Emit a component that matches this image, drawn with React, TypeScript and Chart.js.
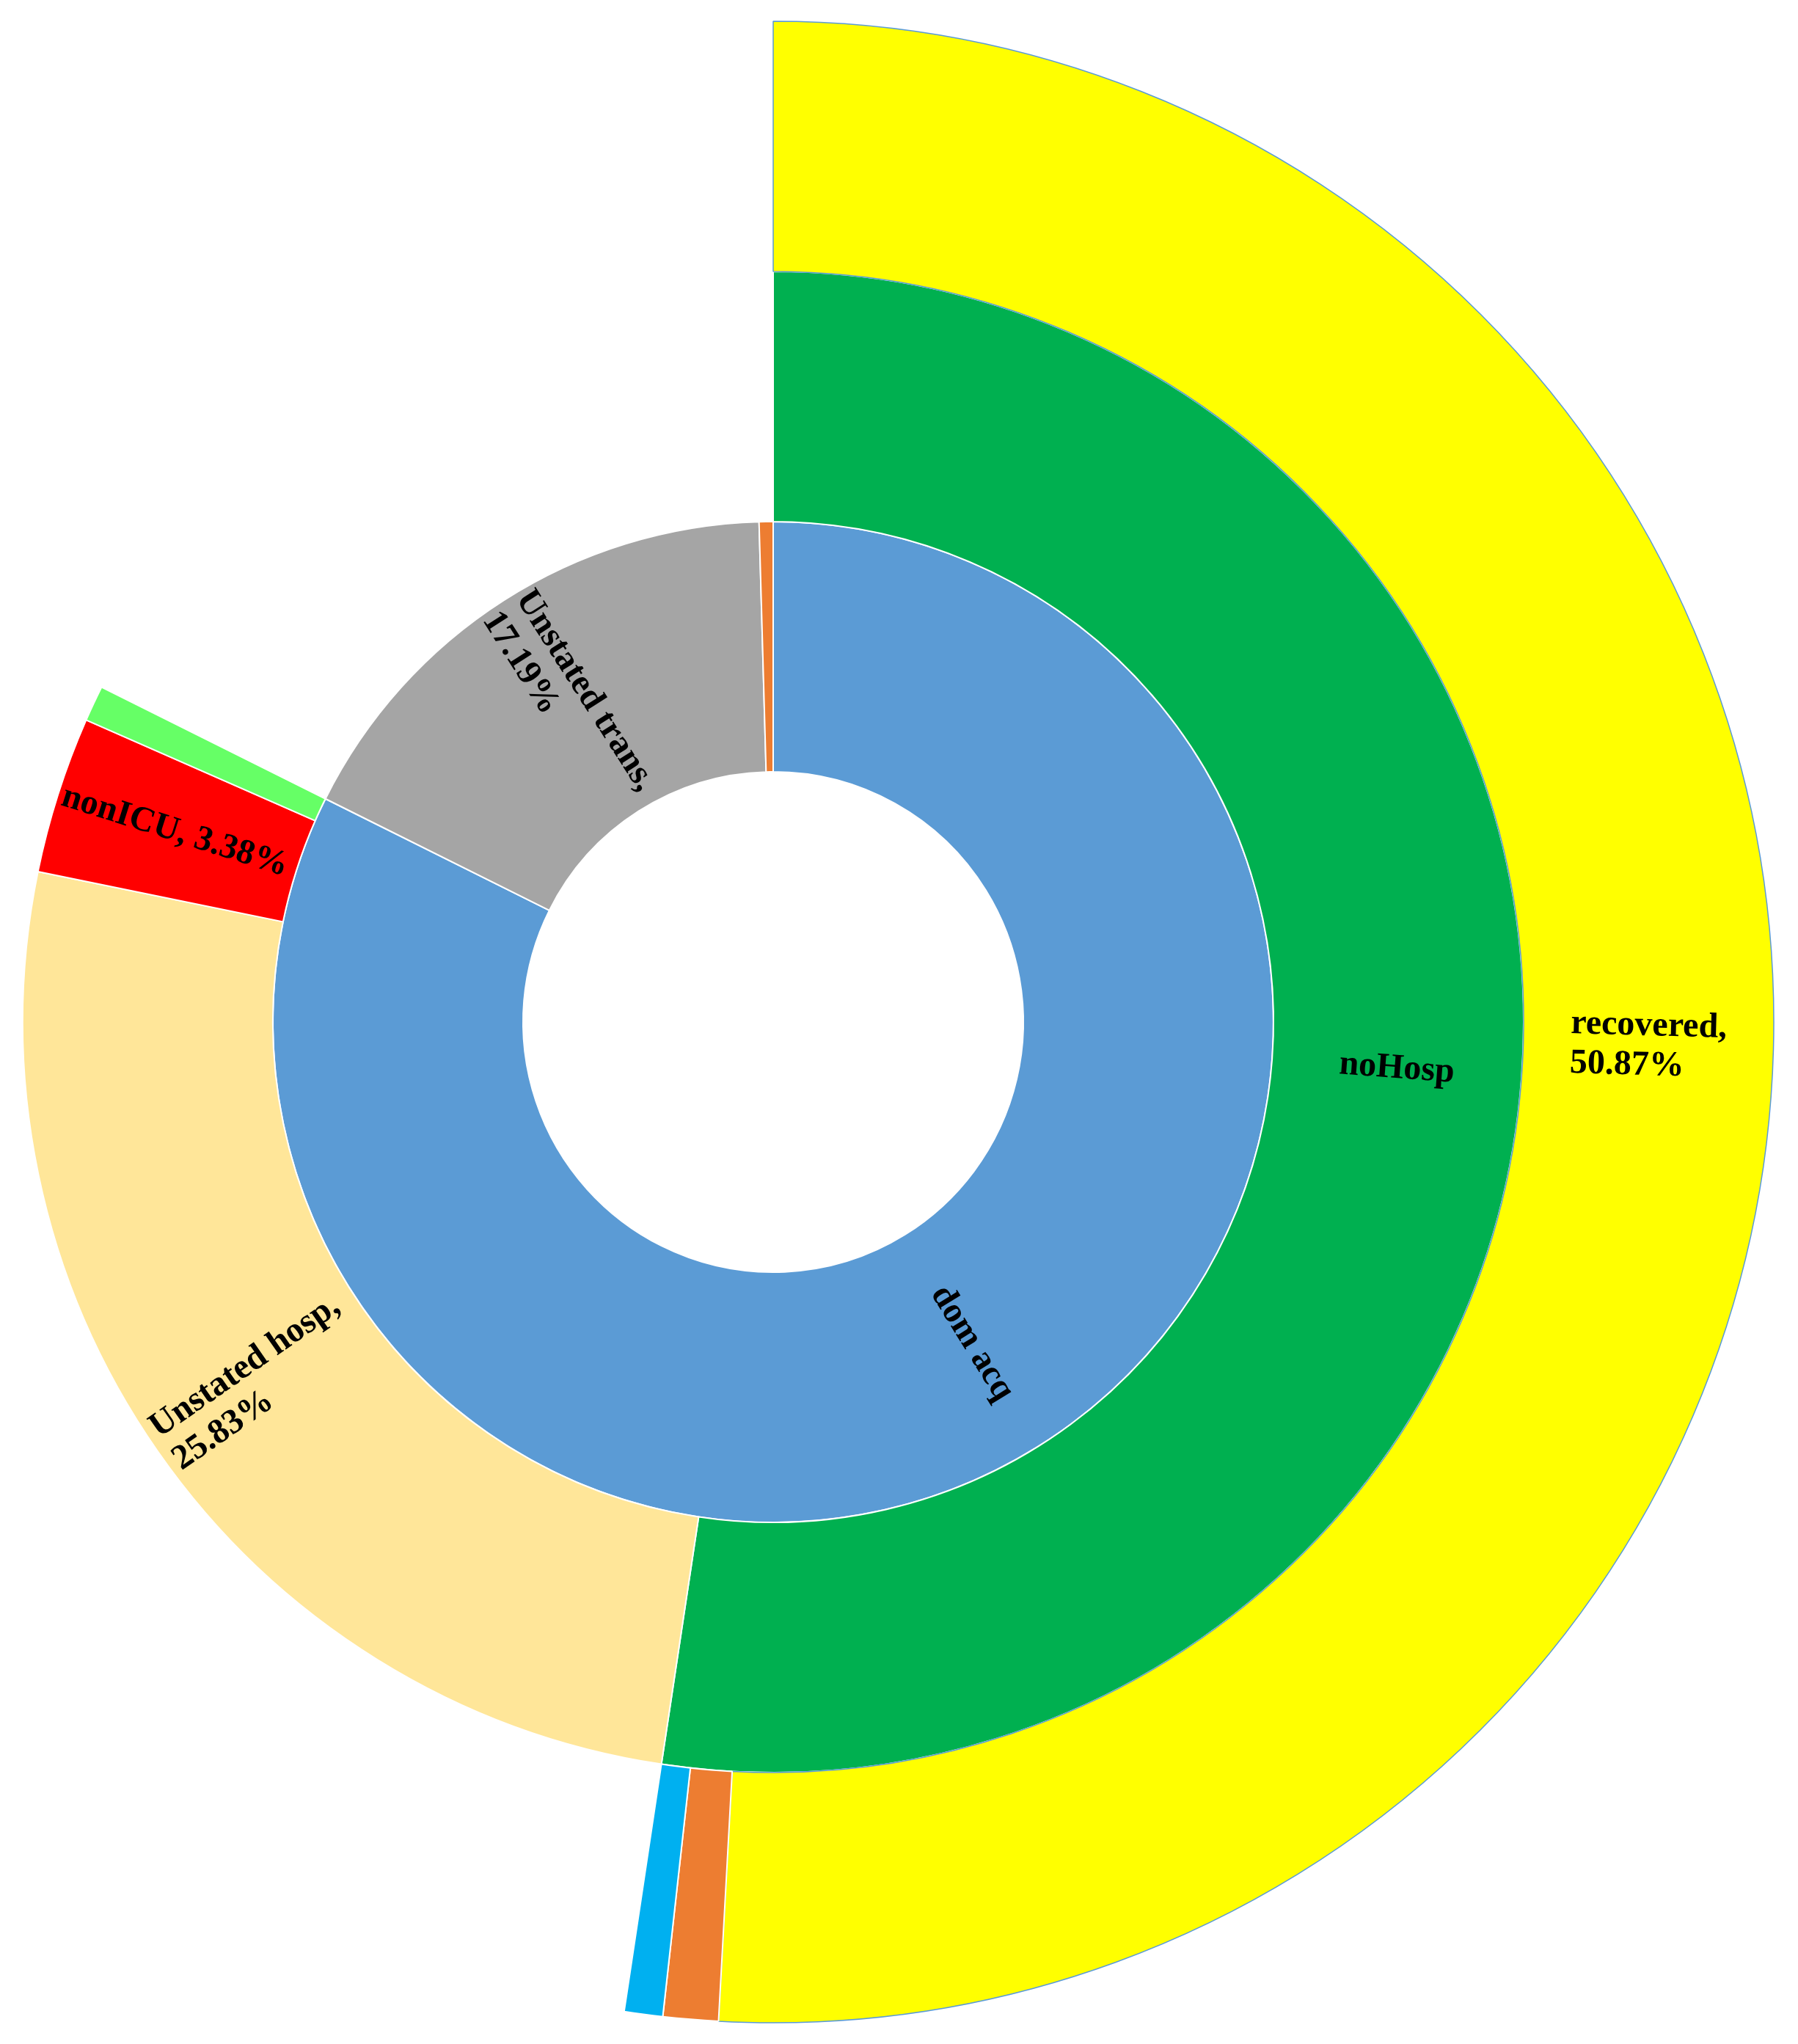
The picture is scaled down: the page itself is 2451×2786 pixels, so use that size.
import React, { useEffect, useRef } from "react";
import { Chart, registerables } from "chart.js";

Chart.register(...registerables);

// ---- Data (percent of all cases) ----
// Inner ring: acquisition
const ring1Names = ["dom acq", "Unstated trans", "overseas"];
const ring1Values = [82.36, 17.19, 0.45];
const ring1Colors = ["#5B9BD5", "#A5A5A5", "#ED7D31"];

// Middle ring: hospitalisation (children of dom acq)
const ring2Names = ["noHosp", "Unstated hosp", "nonICU", "ICU"];
const ring2Values = [52.38, 25.83, 3.38, 0.77];
const ring2Colors = ["#00B050", "#FFE699", "#FF0000", "#66FF66"];

// Outer ring: outcome (children of noHosp)
const ring3Names = ["recovered", "died", "unstated"];
const ring3Values = [50.87, 0.89, 0.62];
const ring3Colors = ["#FFFF00", "#ED7D31", "#00B0F0"];

const TOTAL = 100;

// Segment labels: ring (1 = inner), segment index, text lines, radial position within ring
const labelRing = [1, 1, 2, 2, 2, 3];
const labelIndex = [0, 1, 0, 1, 2, 0];
const labelLines = [
  ["dom acq"],
  ["Unstated trans,", "17.19%"],
  ["noHosp"],
  ["Unstated hosp,", "25.83%"],
  ["nonICU, 3.38%"],
  ["recovered,", "50.87%"],
];
const labelFrac = [0.51, 0.52, 0.5, 0.52, 0.51, 0.5];

const FONT_SIZE = 48;
const LINE_H = 54;

function withFiller(values: number[]) {
  const s = values.reduce((a, b) => a + b, 0);
  const rest = TOTAL - s;
  return rest > 0.0001 ? [...values, rest] : [...values];
}

const labelPlugin = {
  id: "sunburstLabels",
  afterDatasetsDraw(chart: any) {
    const ctx = chart.ctx as CanvasRenderingContext2D;
    ctx.save();
    ctx.font = `bold ${FONT_SIZE}px "Liberation Serif", "Times New Roman", serif`;
    ctx.fillStyle = "#000000";
    ctx.textBaseline = "middle";
    ctx.textAlign = "left";
    for (let k = 0; k < labelLines.length; k++) {
      const ds = 3 - labelRing[k];
      const arc = chart.getDatasetMeta(ds).data[labelIndex[k]];
      if (!arc) continue;
      const p = arc.getProps(
        ["x", "y", "startAngle", "endAngle", "innerRadius", "outerRadius"],
        true
      );
      const mid = (p.startAngle + p.endAngle) / 2;
      const r = p.innerRadius + labelFrac[k] * (p.outerRadius - p.innerRadius);
      const px = p.x + Math.cos(mid) * r;
      const py = p.y + Math.sin(mid) * r;
      let rot = mid;
      if (Math.cos(mid) < 0) rot += Math.PI;
      const lines = labelLines[k];
      ctx.save();
      ctx.translate(px, py);
      ctx.rotate(rot);
      const w = Math.max(...lines.map((s) => ctx.measureText(s).width));
      lines.forEach((s, i) => {
        ctx.fillText(s, -w / 2, (i - (lines.length - 1) / 2) * LINE_H);
      });
      ctx.restore();
    }
    ctx.restore();
  },
};

export default function App() {
  const ref = useRef<HTMLCanvasElement | null>(null);

  useEffect(() => {
    if (!ref.current) return;
    const mk = (values: number[], colors: string[], names: string[], outlineFirst?: string) => {
      const data = withFiller(values);
      const filled = data.length > values.length;
      const bg = filled ? [...colors, "rgba(0,0,0,0)"] : colors;
      const bc = data.map((_, i) =>
        i >= values.length ? "rgba(0,0,0,0)" : i === 0 && outlineFirst ? outlineFirst : "#FFFFFF"
      );
      const bw = data.map((_, i) => (i >= values.length ? 0 : i === 0 && outlineFirst ? 1.5 : 2));
      return {
        data,
        backgroundColor: bg,
        borderColor: bc,
        borderWidth: bw,
        label: names.join("/"),
      };
    };
    const chart = new Chart(ref.current, {
      type: "doughnut",
      data: {
        labels: [...ring2Names, "rest"],
        datasets: [
          mk(ring3Values, ring3Colors, ring3Names, "#5B9BD5"),
          mk(ring2Values, ring2Colors, ring2Names),
          mk(ring1Values, ring1Colors, ring1Names),
        ],
      },
      options: {
        responsive: false,
        animation: false,
        devicePixelRatio: 1,
        cutout: "25%",
        layout: { padding: { top: 28, bottom: 28, left: 0, right: 0 } },
        plugins: {
          legend: { display: false },
          tooltip: { enabled: false },
        },
        events: [],
      },
      plugins: [labelPlugin],
    });
    return () => chart.destroy();
  }, []);

  return (
    <div
      style={{
        position: "absolute",
        left: 0,
        top: 0,
        width: 2451,
        height: 2786,
        overflow: "hidden",
        background: "#FFFFFF",
      }}
    >
      <canvas
        ref={ref}
        width={2730}
        height={2786}
        style={{ position: "absolute", left: -311, top: 0, width: 2730, height: 2786 }}
      />
    </div>
  );
}
